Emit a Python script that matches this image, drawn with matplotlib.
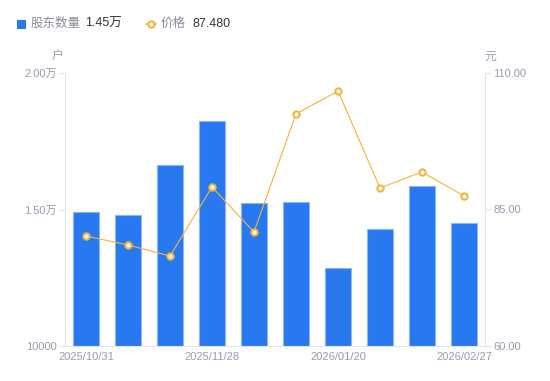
import matplotlib
matplotlib.use("Agg")
import matplotlib.pyplot as plt
from matplotlib.lines import Line2D
from matplotlib.patches import Rectangle

plt.rcParams['font.family'] = ['Liberation Sans', 'Noto Sans CJK SC', 'DejaVu Sans']

x_labels = ["2025/10/31", "", "", "2025/11/28", "", "", "2026/01/20", "", "", "2026/02/27"]
holders = [14900, 14800, 16630, 18240, 15240, 15270, 12860, 14290, 15860, 14500]
prices = [80.15, 78.5, 76.48, 89.12, 80.88, 102.49, 106.7, 88.94, 91.87, 87.48]

left_ticks = [10000, 15000, 20000]
left_tick_labels = ["10000", "1.50万", "2.00万"]
right_ticks = [60, 85, 110]
right_tick_labels = ["60.00", "85.00", "110.00"]

BAR = "#2878F0"
BAR_EDGE = "#8DB6F7"
LINE = "#F5B43C"
AXIS = "#E3E4E8"
TXT = "#9A9BAE"

fig = plt.figure(figsize=(5.5, 3.81), dpi=100)
ax = fig.add_axes([65/550, 35/381, 420/550, 273/381])
ax2 = ax.twinx()

xs = list(range(len(holders)))
ax.bar(xs, holders, width=0.6, color=BAR, edgecolor=BAR_EDGE, linewidth=0.8, zorder=2)
ax.set_ylim(10000, 20000)
ax.set_xlim(-0.5, len(holders) - 0.5)
ax.set_yticks(left_ticks)
ax.set_yticklabels(left_tick_labels)
ax.set_xticks(xs)
ax.set_xticklabels(x_labels)

ax2.plot(xs, prices, color=LINE, linewidth=0.8, marker='o', markersize=4.5,
         markerfacecolor='white', markeredgecolor=LINE, markeredgewidth=1.5, zorder=3)
ax2.set_ylim(60, 110)
ax2.set_yticks(right_ticks)
ax2.set_yticklabels(right_tick_labels)

for a in (ax, ax2):
    for s in a.spines.values():
        s.set_visible(False)
ax.spines['left'].set_visible(True)
ax.spines['left'].set_color(AXIS)
ax.spines['bottom'].set_visible(True)
ax.spines['bottom'].set_color(AXIS)
ax2.spines['right'].set_visible(True)
ax2.spines['right'].set_color(AXIS)

ax.tick_params(axis='y', colors=AXIS, labelcolor=TXT, labelsize=8, length=4, width=0.8, pad=2)
ax.tick_params(axis='x', length=0, labelcolor=TXT, labelsize=8, pad=4)
ax2.tick_params(axis='y', colors=AXIS, labelcolor=TXT, labelsize=8, length=4, width=0.8, pad=2)

fig.text(58/550, 1 - 57/381, "户", color=TXT, fontsize=8.5, ha='center', va='center')
fig.text(490/550, 1 - 57/381, "元", color=TXT, fontsize=8.5, ha='center', va='center')

# legend
ly = 1 - 24/381
fig.patches.append(Rectangle((17/550, 1 - 29/381), 9/550, 9/381, transform=fig.transFigure,
                             facecolor=BAR, edgecolor='none'))
fig.text(31/550, ly, "股东数量", color="#8A8B9C", fontsize=9, ha='left', va='center')
fig.text(85/550, ly, "1.45万", color="#333333", fontsize=9, ha='left', va='center')
fig.lines.append(Line2D([146/550, 156/550], [ly, ly], transform=fig.transFigure, color=LINE,
                        linewidth=1.2))
fig.lines.append(Line2D([151/550], [ly], transform=fig.transFigure, color=LINE, linestyle='none',
                        marker='o', markersize=4.5, markerfacecolor='white', markeredgewidth=1.5))
fig.text(161/550, ly, "价格", color="#8A8B9C", fontsize=9, ha='left', va='center')
fig.text(192/550, ly, "87.480", color="#333333", fontsize=9, ha='left', va='center')

fig.savefig("out.png", dpi=100)
